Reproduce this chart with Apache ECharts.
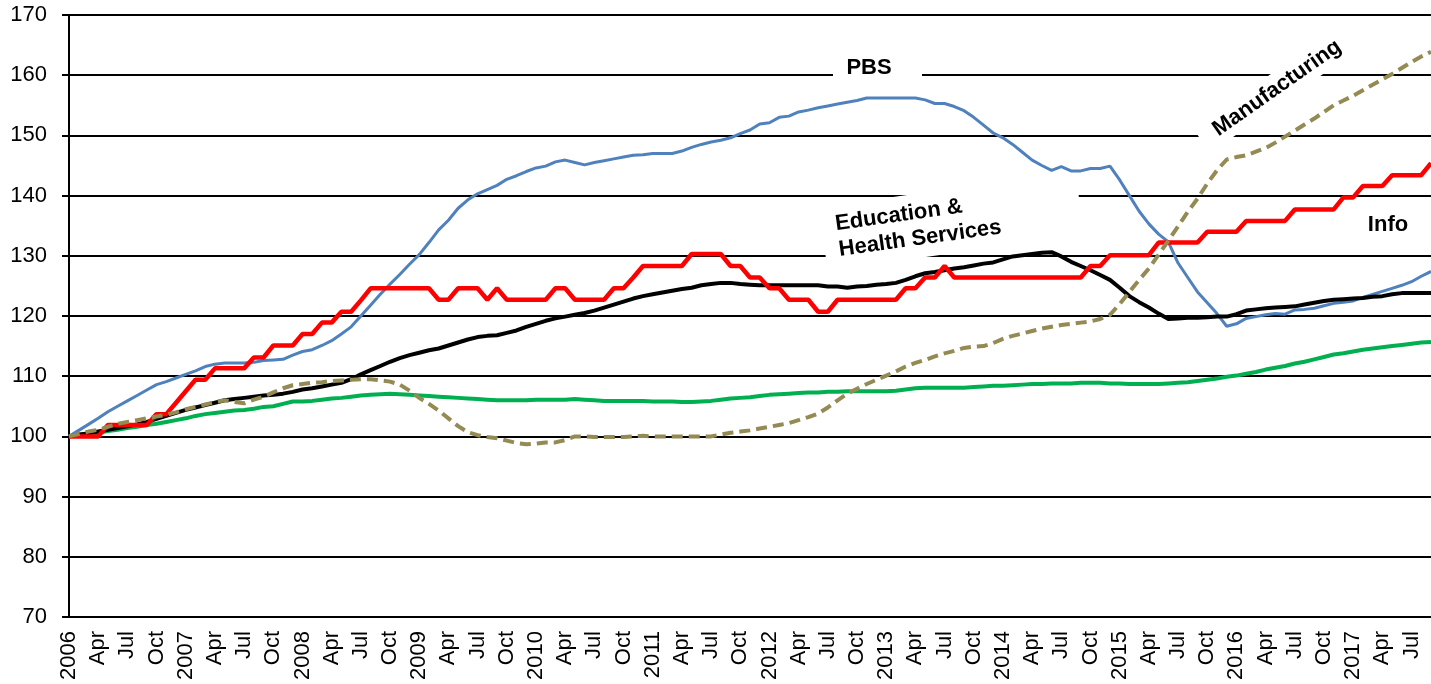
<!DOCTYPE html>
<html>
<head>
<meta charset="utf-8">
<script src="https://cdn.jsdelivr.net/npm/echarts@6/dist/echarts.min.js"></script>
<style>
	html, body { margin: 0; padding: 0; background: #fff; }
	#chart { width: 1431px; height: 684px; }
</style>
</head>
<body>
<div id="chart"></div>
<script>
	var years = [2006, 2007, 2008, 2009, 2010, 2011, 2012, 2013, 2014, 2015, 2016, 2017];
	var monthNames = ['Jan', 'Feb', 'Mar', 'Apr', 'May', 'Jun', 'Jul', 'Aug', 'Sep', 'Oct', 'Nov', 'Dec'];
	var monthCount = 141; // Jan 2006 .. Sep 2017

	var pbs = [
		100.0, 101.0, 102.0, 103.0, 104.1, 105.0, 105.9, 106.8, 107.7, 108.6, 109.1, 109.7,
		110.3, 110.9, 111.6, 112.0, 112.2, 112.2, 112.2, 112.3, 112.6, 112.7, 112.8, 113.5,
		114.1, 114.4, 115.1, 115.9, 117.0, 118.2, 120.0, 121.8, 123.6, 125.3, 126.9, 128.6,
		130.2, 132.2, 134.3, 135.9, 137.9, 139.3, 140.3, 141.0, 141.7, 142.7, 143.3, 144.0,
		144.6, 144.9, 145.6, 145.9, 145.5, 145.1, 145.5, 145.8, 146.1, 146.4, 146.7, 146.8,
		147.0, 147.0, 147.0, 147.4, 148.0, 148.5, 148.9, 149.2, 149.6, 150.3, 150.9, 151.9,
		152.1, 153.0, 153.2, 153.9, 154.2, 154.6, 154.9, 155.2, 155.5, 155.8, 156.2, 156.2,
		156.2, 156.2, 156.2, 156.2, 155.9, 155.3, 155.3, 154.8, 154.1, 153.0, 151.7, 150.4,
		149.6, 148.5, 147.2, 145.9, 145.0, 144.2, 144.8, 144.1, 144.1, 144.5, 144.5, 144.9,
		142.6, 140.0, 137.4, 135.3, 133.6, 132.3, 128.8, 126.4, 124.0, 122.2, 120.4, 118.3,
		118.7, 119.6, 119.9, 120.2, 120.4, 120.3, 121.0, 121.1, 121.3, 121.7, 122.1, 122.3,
		122.5, 123.1, 123.6, 124.1, 124.6, 125.1, 125.7, 126.6, 127.4
	];
	var eduHealth = [
		100.0, 100.3, 100.5, 100.8, 101.1, 101.4, 101.7, 102.0, 102.4, 102.9, 103.4, 103.9,
		104.4, 104.8, 105.2, 105.6, 106.0, 106.2, 106.4, 106.6, 106.8, 106.9, 107.1, 107.4,
		107.8, 108.0, 108.3, 108.6, 108.9, 109.5, 110.3, 111.0, 111.7, 112.4, 113.0, 113.5,
		113.9, 114.3, 114.6, 115.1, 115.6, 116.1, 116.5, 116.7, 116.8, 117.2, 117.6, 118.2,
		118.7, 119.2, 119.6, 119.9, 120.2, 120.5, 120.9, 121.4, 121.9, 122.4, 122.9, 123.3,
		123.6, 123.9, 124.2, 124.5, 124.7, 125.1, 125.3, 125.5, 125.5, 125.3, 125.2, 125.1,
		125.1, 125.1, 125.1, 125.1, 125.1, 125.1, 124.9, 124.9, 124.7, 124.9, 125.0, 125.2,
		125.3, 125.5, 126.0, 126.6, 127.1, 127.3, 127.6, 127.9, 128.1, 128.4, 128.7, 128.9,
		129.4, 129.9, 130.1, 130.3, 130.5, 130.6, 129.9, 129.0, 128.3, 127.6, 126.8, 126.0,
		124.7, 123.3, 122.3, 121.4, 120.4, 119.5, 119.6, 119.7, 119.7, 119.8, 119.9, 119.9,
		120.3, 120.9, 121.1, 121.3, 121.4, 121.5, 121.6, 121.9, 122.2, 122.5, 122.7, 122.8,
		122.9, 123.0, 123.2, 123.3, 123.6, 123.8, 123.8, 123.8, 123.8
	];
	var info = [
		100.0, 100.0, 100.0, 100.0, 101.9, 101.9, 101.9, 101.9, 101.9, 103.7, 103.7, 105.6,
		107.5, 109.4, 109.4, 111.3, 111.3, 111.3, 111.3, 113.1, 113.1, 115.1, 115.1, 115.1,
		117.0, 117.0, 118.9, 118.9, 120.7, 120.7, 122.6, 124.6, 124.6, 124.6, 124.6, 124.6,
		124.6, 124.6, 122.7, 122.7, 124.6, 124.6, 124.6, 122.7, 124.6, 122.7, 122.7, 122.7,
		122.7, 122.7, 124.6, 124.6, 122.7, 122.7, 122.7, 122.7, 124.6, 124.6, 126.4, 128.3,
		128.3, 128.3, 128.3, 128.3, 130.3, 130.3, 130.3, 130.3, 128.3, 128.3, 126.4, 126.4,
		124.6, 124.6, 122.7, 122.7, 122.7, 120.7, 120.7, 122.7, 122.7, 122.7, 122.7, 122.7,
		122.7, 122.7, 124.6, 124.6, 126.4, 126.4, 128.3, 126.4, 126.4, 126.4, 126.4, 126.4,
		126.4, 126.4, 126.4, 126.4, 126.4, 126.4, 126.4, 126.4, 126.4, 128.3, 128.3, 130.1,
		130.1, 130.1, 130.1, 130.1, 132.2, 132.2, 132.2, 132.2, 132.2, 134.0, 134.0, 134.0,
		134.0, 135.8, 135.8, 135.8, 135.8, 135.8, 137.7, 137.7, 137.7, 137.7, 137.7, 139.7,
		139.7, 141.6, 141.6, 141.6, 143.4, 143.4, 143.4, 143.4, 145.4
	];
	var manufacturing = [
		100.0, 100.4, 100.8, 101.1, 101.6, 102.1, 102.4, 102.7, 103.0, 103.3, 103.6, 104.0,
		104.5, 104.9, 105.3, 105.7, 106.0, 105.7, 105.5, 106.1, 106.6, 107.3, 108.0, 108.5,
		108.7, 108.9, 109.0, 109.2, 109.3, 109.4, 109.5, 109.5, 109.3, 109.1, 108.6, 107.6,
		106.4, 105.4, 104.3, 103.0, 101.7, 100.7, 100.2, 99.9, 99.7, 99.3, 98.9, 98.7,
		98.8, 99.0, 99.0, 99.4, 100.0, 100.0, 99.9, 99.9, 99.9, 99.9, 100.0, 100.1,
		100.0, 100.0, 100.0, 100.0, 100.0, 100.0, 100.0, 100.3, 100.6, 100.8, 101.0, 101.3,
		101.6, 101.9, 102.2, 102.7, 103.2, 103.8, 104.8, 106.0, 107.1, 107.9, 108.7, 109.4,
		110.1, 110.8, 111.6, 112.2, 112.7, 113.3, 113.8, 114.2, 114.7, 114.9, 115.0, 115.5,
		116.2, 116.7, 117.1, 117.5, 117.9, 118.2, 118.5, 118.7, 118.9, 119.1, 119.5, 120.2,
		122.0, 124.0, 126.0, 127.9, 130.2, 132.5, 134.9, 137.3, 139.5, 142.0, 144.2, 146.0,
		146.4, 146.7, 147.3, 147.9, 148.8, 149.8, 150.8, 151.8, 152.8, 153.9, 155.0, 155.8,
		156.6, 157.5, 158.4, 159.3, 160.2, 161.2, 162.2, 163.1, 163.9
	];
	var otherSvc = [
		100.0, 100.2, 100.4, 100.6, 100.9, 101.1, 101.4, 101.6, 101.9, 102.1, 102.4, 102.7,
		103.0, 103.4, 103.7, 103.9, 104.1, 104.3, 104.4, 104.6, 104.9, 105.0, 105.4, 105.8,
		105.8, 105.9, 106.1, 106.3, 106.4, 106.6, 106.8, 106.9, 107.0, 107.1, 107.0, 106.9,
		106.8, 106.7, 106.6, 106.5, 106.4, 106.3, 106.2, 106.1, 106.0, 106.0, 106.0, 106.0,
		106.1, 106.1, 106.1, 106.1, 106.2, 106.1, 106.0, 105.9, 105.9, 105.9, 105.9, 105.9,
		105.8, 105.8, 105.8, 105.7, 105.7, 105.8, 105.9, 106.1, 106.3, 106.4, 106.5, 106.7,
		106.9, 107.0, 107.1, 107.2, 107.3, 107.3, 107.4, 107.4, 107.5, 107.5, 107.5, 107.5,
		107.5, 107.6, 107.8, 108.0, 108.1, 108.1, 108.1, 108.1, 108.1, 108.2, 108.3, 108.4,
		108.4, 108.5, 108.6, 108.7, 108.7, 108.8, 108.8, 108.8, 108.9, 108.9, 108.9, 108.8,
		108.8, 108.7, 108.7, 108.7, 108.7, 108.8, 108.9, 109.0, 109.2, 109.4, 109.6, 109.9,
		110.1, 110.4, 110.7, 111.1, 111.4, 111.7, 112.1, 112.4, 112.8, 113.2, 113.6, 113.8,
		114.1, 114.4, 114.6, 114.8, 115.0, 115.2, 115.4, 115.6, 115.7
	];

	var categories = [];
	years.forEach(function(y) {
		monthNames.forEach(function(mn, i) {
			if (categories.length < monthCount) {
				categories.push(i === 0 ? String(y) : mn);
			}
		});
	});

	var font = '"Liberation Sans", Arial, sans-serif';
	var deg = Math.PI / 180;
	// white label boxes sit above the grid lines but under the series
	var boxZ = 1;

	var myChart = echarts.init(document.getElementById('chart'));
	var option = {
		backgroundColor: '#fff',
		animation: false,
		grid: { left: 69, right: 0, top: 15, bottom: 67, containLabel: false },
		xAxis: {
			type: 'category',
			data: categories,
			boundaryGap: false,
			axisLine: { lineStyle: { color: '#000', width: 2 } },
			axisTick: { show: false },
			axisLabel: {
				interval: 2,
				rotate: 90,
				margin: 14,
				color: '#000',
				fontSize: 22,
				fontFamily: font
			},
			splitLine: { show: false }
		},
		yAxis: {
			type: 'value',
			min: 70,
			max: 170,
			interval: 10,
			axisLine: { show: true, lineStyle: { color: '#000', width: 2 } },
			axisTick: { show: true, length: 7, lineStyle: { color: '#000', width: 2 } },
			axisLabel: { margin: 22, color: '#000', fontSize: 22, fontFamily: font },
			splitLine: { show: true, lineStyle: { color: '#000', width: 2 } }
		},
		series: [
			{ name: 'Other', type: 'line', data: otherSvc, showSymbol: false, z: 2,
				lineStyle: { color: '#00B050', width: 4 } },
			{ name: 'PBS', type: 'line', data: pbs, showSymbol: false, z: 3,
				lineStyle: { color: '#4F81BD', width: 3 } },
			{ name: 'Education & Health Services', type: 'line', data: eduHealth, showSymbol: false, z: 4,
				lineStyle: { color: '#000', width: 4 } },
			{ name: 'Info', type: 'line', data: info, showSymbol: false, z: 5,
				lineStyle: { color: '#FF0000', width: 4.5 } },
			{ name: 'Manufacturing', type: 'line', data: manufacturing, showSymbol: false, z: 6,
				lineStyle: { color: '#948A54', width: 4, type: [11, 6] } }
		],
		graphic: {
			elements: [
				{
					type: 'group', x: 869, y: 70, z: boxZ,
					children: [
						{ type: 'rect', z: boxZ, shape: { x: -36, y: -16, width: 89, height: 30 }, style: { fill: '#fff' } },
						{ type: 'text', z: boxZ, style: { text: 'PBS', x: 0, y: -2, align: 'center', verticalAlign: 'middle',
							font: 'bold 22px ' + font, fill: '#000' } }
					]
				},
				{
					type: 'group', x: 952, y: 221, rotation: 8 * deg, z: boxZ,
					children: [
						{ type: 'rect', z: boxZ, shape: { x: -130, y: -32, width: 259, height: 64 }, style: { fill: '#fff' } },
						{ type: 'text', z: boxZ, style: { text: 'Education &', x: -116, y: -13, align: 'left', verticalAlign: 'middle',
							font: 'bold 22px ' + font, fill: '#000' } },
						{ type: 'text', z: boxZ, style: { text: 'Health Services', x: -116, y: 13, align: 'left', verticalAlign: 'middle',
							font: 'bold 22px ' + font, fill: '#000' } }
					]
				},
				{
					type: 'group', x: 1277, y: 88, rotation: 35 * deg, z: boxZ,
					children: [
						{ type: 'rect', z: boxZ, shape: { x: -92, y: -15, width: 184, height: 30 }, style: { fill: '#fff' } },
						{ type: 'text', z: boxZ, style: { text: 'Manufacturing', x: 0, y: 0, align: 'center', verticalAlign: 'middle',
							font: 'bold 22px ' + font, fill: '#000' } }
					]
				},
				{
					type: 'text', x: 1388, y: 225, z: boxZ,
					style: { text: 'Info', align: 'center', verticalAlign: 'middle', font: 'bold 22px ' + font, fill: '#000' }
				}
			]
		}
	};
	myChart.setOption(option);
</script>
</body>
</html>
